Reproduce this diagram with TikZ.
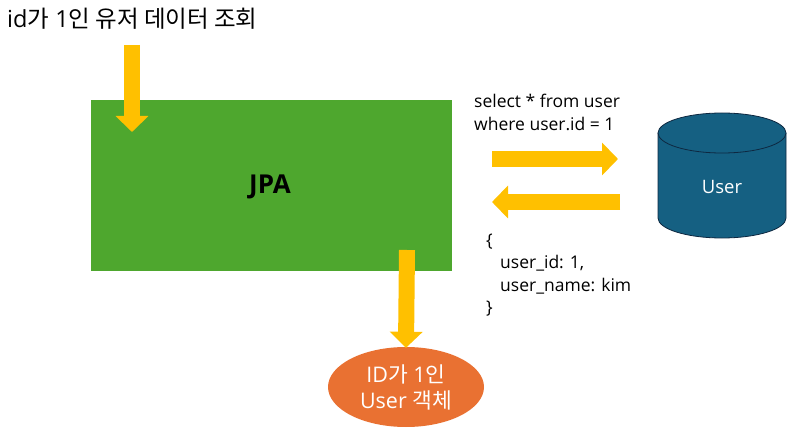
\documentclass[tikz,border=0pt]{standalone}
\usepackage{fontspec}
\setmainfont{Open Sans}
\newfontfamily\kr{Noto Sans CJK KR}
\usetikzlibrary{arrows.meta,shapes.geometric}
\definecolor{jpagreen}{RGB}{78,167,46}
\definecolor{arrowyellow}{RGB}{255,192,0}
\definecolor{dbblue}{RGB}{21,96,130}
\definecolor{dbline}{RGB}{14,40,65}
\definecolor{objorange}{RGB}{233,113,50}
\tikzset{
  blockarrow/.style={draw=arrowyellow, line width=16pt,
    -{Triangle[width=32pt,length=16pt,fill=arrowyellow]}},
  plaintext/.style={inner sep=0pt, font=\fontsize{17.5}{22.5}\selectfont, align=left},
}
\begin{document}
\begin{tikzpicture}[x=1pt,y=1pt]
\useasboundingbox (0,0) rectangle (804,440);
% title
\node[anchor=west, inner sep=0pt, font=\fontsize{23.5}{27}\selectfont] (title) at (7,421) {id{\kr 가} 1{\kr 인 유저 데이터 조회}};
% JPA box
\node[fill=jpagreen, minimum width=361pt, minimum height=171pt, inner sep=0pt] (jpa) at (271.5,254.5) {};
\node[font=\fontsize{26}{30}\selectfont\bfseries] (jpatext) at (270,253) {JPA};
% database cylinder
\fill[dbblue, draw=dbline, line width=0.8pt] (658,307) -- (658,222) arc[start angle=180, end angle=360, x radius=64, y radius=20] -- (786,307);
\draw[dbline, line width=0.8pt, fill=dbblue] (722,307) ellipse [x radius=64, y radius=20];
\node[text=white, font=\fontsize{18.5}{22}\selectfont] (db) at (722,253) {User};
% texts
\node[plaintext, anchor=west] (sql) at (474,327.5) {select * from user\\where user.id = 1};
\node[plaintext, anchor=west] (json) at (486,165) {\{\\\hspace{14pt}user\_id: 1,\\\hspace{14pt}user\_name: kim\\\}};
% result ellipse
\node[ellipse, fill=objorange, minimum width=156pt, minimum height=80pt, inner sep=0pt,
      text=white, align=center, font=\fontsize{21.5}{26}\selectfont] (obj) at (406,53) {ID{\kr 가} 1{\kr 인}\\User {\kr 객체}};
% arrows
\coordinate (a1s) at (132,395);
\coordinate (a1e) at (132,308);
\coordinate (a2s) at (492,281);
\coordinate (a2e) at (618,281);
\coordinate (a3s) at (620,238);
\coordinate (a3e) at (492,238);
\coordinate (a4s) at (407,190);
\draw[blockarrow] (a1s) -- (a1e);
\draw[blockarrow] (a2s) -- (a2e);
\draw[blockarrow] (a3s) -- (a3e);
\draw[blockarrow, shorten >=-1pt] (a4s) -- (obj.north);
\end{tikzpicture}
\end{document}
